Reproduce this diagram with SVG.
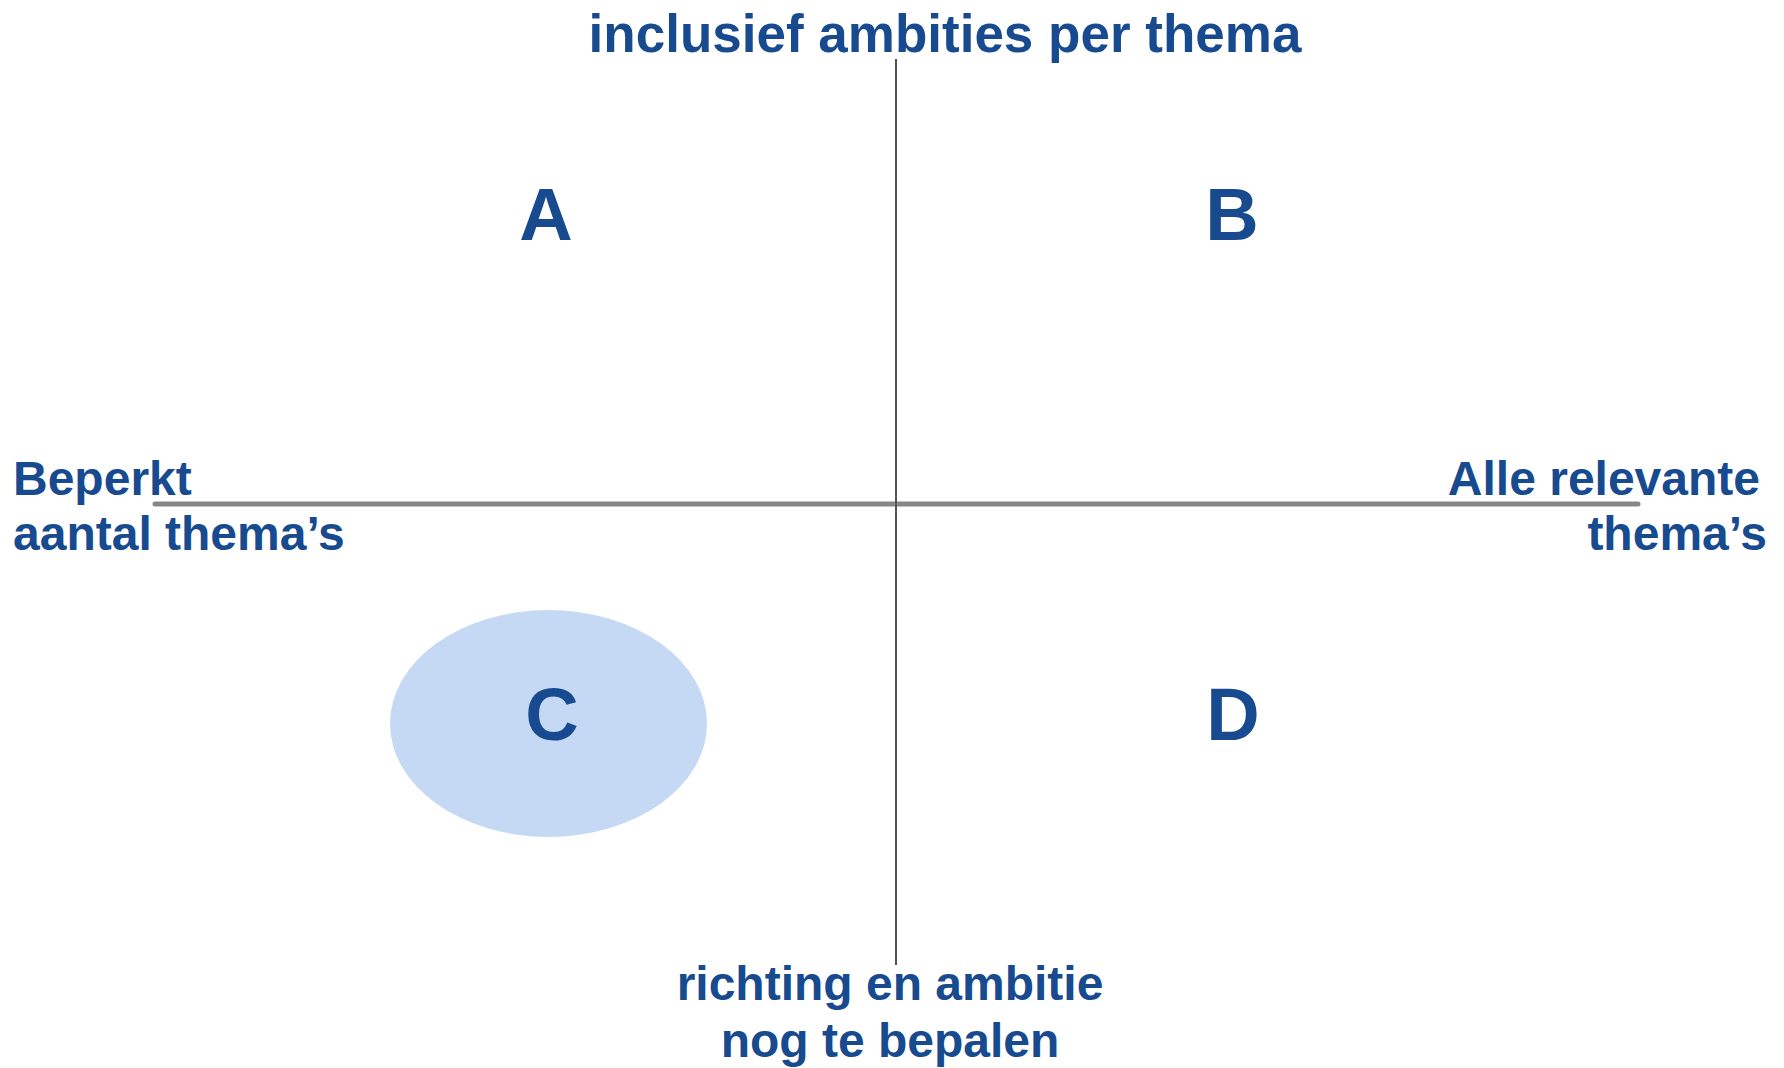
<svg xmlns="http://www.w3.org/2000/svg" width="1784" height="1068" viewBox="0 0 1784 1068">
<style>
text { font-family: "Liberation Sans", Arial, sans-serif; font-weight: bold; fill: #174A8F; }
.lbl { font-size: 48px; }
.title { font-size: 53px; }
.letter { font-size: 74px; text-anchor: middle; }
</style>
<rect width="1784" height="1068" fill="#FFFFFF"/>
<g id="connectors">
  <line x1="155" y1="504" x2="1638" y2="504" stroke="#878787" stroke-width="5" stroke-linecap="round"/>
  <line x1="896" y1="59" x2="896" y2="965" stroke="#555555" stroke-width="2"/>
</g>
<g id="node-title"><text class="title" x="945" y="52" text-anchor="middle">inclusief ambities per thema</text></g>
<g id="node-left">
  <text class="lbl" x="13" y="495">Beperkt</text>
  <text class="lbl" x="13" y="550">aantal thema’s</text>
</g>
<g id="node-right">
  <text class="lbl" x="1760" y="495" text-anchor="end">Alle relevante</text>
  <text class="lbl" x="1767" y="550" text-anchor="end">thema’s</text>
</g>
<g id="node-bottom">
  <text class="lbl" x="890" y="1000" text-anchor="middle">richting en ambitie</text>
  <text class="lbl" x="890" y="1057" text-anchor="middle">nog te bepalen</text>
</g>
<g id="node-A"><text class="letter" x="546" y="240">A</text></g>
<g id="node-B"><text class="letter" x="1232" y="240">B</text></g>
<g id="node-C">
  <ellipse cx="548.5" cy="723.5" rx="158.5" ry="113.5" fill="#C5D9F5"/>
  <text class="letter" x="552" y="740">C</text>
</g>
<g id="node-D"><text class="letter" x="1233" y="740">D</text></g>
</svg>
